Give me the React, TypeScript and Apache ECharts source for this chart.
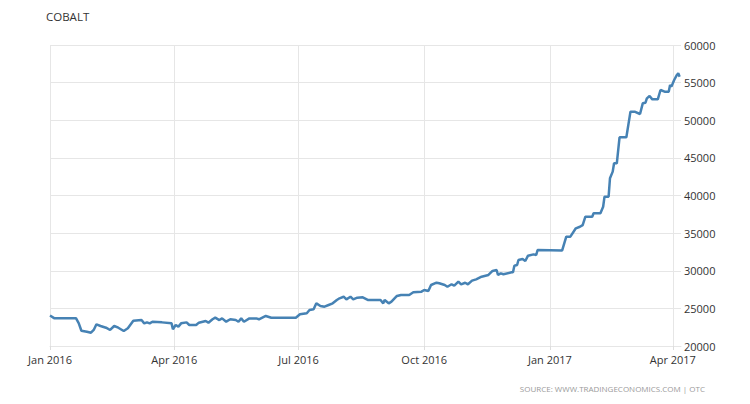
import React, { useEffect, useRef } from "react";
import * as echarts from "echarts";

const titleText = "COBALT";
const sourceText = "SOURCE: WWW.TRADINGECONOMICS.COM | OTC";

const dates: string[] = [
  "2016-01-01", "2016-01-04", "2016-01-20", "2016-01-22", "2016-01-24", "2016-01-28", "2016-01-31",
  "2016-02-02", "2016-02-04", "2016-02-07", "2016-02-11", "2016-02-14", "2016-02-17", "2016-02-20",
  "2016-02-24", "2016-02-27", "2016-03-02", "2016-03-08", "2016-03-10", "2016-03-12", "2016-03-14",
  "2016-03-16", "2016-03-23", "2016-03-30", "2016-03-31", "2016-04-02", "2016-04-04", "2016-04-06",
  "2016-04-10", "2016-04-12", "2016-04-17", "2016-04-19", "2016-04-24", "2016-04-26", "2016-04-29",
  "2016-05-01", "2016-05-04", "2016-05-06", "2016-05-09", "2016-05-12", "2016-05-16", "2016-05-18",
  "2016-05-20", "2016-05-22", "2016-05-26", "2016-05-31", "2016-06-02", "2016-06-07", "2016-06-11",
  "2016-06-29", "2016-07-02", "2016-07-07", "2016-07-09", "2016-07-12", "2016-07-14", "2016-07-17",
  "2016-07-20", "2016-07-23", "2016-07-26", "2016-07-29", "2016-07-31", "2016-08-03", "2016-08-05",
  "2016-08-08", "2016-08-10", "2016-08-13", "2016-08-17", "2016-08-21", "2016-08-25", "2016-08-30",
  "2016-09-01", "2016-09-02", "2016-09-05", "2016-09-07", "2016-09-11", "2016-09-14", "2016-09-20",
  "2016-09-23", "2016-09-29", "2016-10-01", "2016-10-04", "2016-10-06", "2016-10-10", "2016-10-12",
  "2016-10-16", "2016-10-18", "2016-10-21", "2016-10-23", "2016-10-26", "2016-10-28", "2016-10-31",
  "2016-11-02", "2016-11-05", "2016-11-08", "2016-11-12", "2016-11-17", "2016-11-20", "2016-11-23",
  "2016-11-24", "2016-11-26", "2016-11-28", "2016-12-04", "2016-12-05", "2016-12-06", "2016-12-08",
  "2016-12-09", "2016-12-12", "2016-12-14", "2016-12-16", "2016-12-20", "2016-12-22", "2016-12-23",
  "2017-01-10", "2017-01-13", "2017-01-16", "2017-01-20", "2017-01-23", "2017-01-25", "2017-01-27",
  "2017-02-01", "2017-02-02", "2017-02-07", "2017-02-09", "2017-02-10", "2017-02-13", "2017-02-14",
  "2017-02-16", "2017-02-17", "2017-02-19", "2017-02-21", "2017-02-26", "2017-03-01", "2017-03-04",
  "2017-03-08", "2017-03-10", "2017-03-12", "2017-03-13", "2017-03-15", "2017-03-17", "2017-03-21",
  "2017-03-23", "2017-03-26", "2017-03-29", "2017-03-30", "2017-03-31", "2017-04-02", "2017-04-04",
  "2017-04-05", "2017-04-06",
];

const prices: number[] = [
  24050, 23700, 23700, 23050, 22030, 21900, 21770,
  22130, 22880, 22660, 22430, 22130, 22660, 22430,
  21990, 22350, 23360, 23450, 23010, 23140, 23010,
  23230, 23140, 23010, 22220, 22790, 22570, 23010,
  23140, 22790, 22790, 23100, 23320, 23100, 23550,
  23760, 23450, 23670, 23230, 23550, 23450, 23230,
  23670, 23230, 23670, 23670, 23550, 23990, 23760,
  23760, 24210, 24350, 24780, 24870, 25670, 25320,
  25230, 25450, 25670, 26110, 26340, 26550, 26200,
  26550, 26200, 26420, 26470, 26110, 26110, 26110,
  25670, 26110, 25670, 25890, 26650, 26780, 26780,
  27140, 27220, 27440, 27310, 28110, 28410, 28330,
  28110, 27880, 28200, 28020, 28550, 28200, 28410,
  28200, 28680, 28860, 29210, 29440, 29970, 30100,
  29440, 29660, 29530, 29790, 29790, 30670, 30760,
  31430, 31560, 31300, 32000, 32180, 32090, 32760,
  32700, 34530, 34530, 35640, 35850, 36070, 37180,
  37180, 37640, 37640, 38510, 39840, 39840, 42290,
  43170, 44280, 44280, 47740, 47740, 51140, 51140,
  50830, 52250, 52330, 52910, 53220, 52780, 52780,
  54020, 53800, 53800, 54690, 54470, 55350, 56020,
  56240, 55790,
];

const xTickDates: string[] = ["2016-01-01", "2016-04-01", "2016-07-01", "2016-10-01", "2017-01-01", "2017-04-01"];
const monthNames: string[] = ["Jan", "Feb", "Mar", "Apr", "May", "Jun", "Jul", "Aug", "Sep", "Oct", "Nov", "Dec"];
const xMin = "2016-01-01";
const xMax = "2017-04-07";
const yMin = 20000;
const yMax = 60000;
const yStep = 5000;

function toTs(s: string): number {
  const [y, m, d] = s.split("-").map(Number);
  return new Date(y, m - 1, d).getTime();
}

export default function App() {
  const ref = useRef<HTMLDivElement>(null);
  useEffect(() => {
    if (!ref.current) return;
    const chart = echarts.init(ref.current, null, { renderer: "svg" });
    const tickTs = xTickDates.map(toTs);
    const font = "'Open Sans', sans-serif";
    chart.setOption({
      animation: false,
      backgroundColor: "#ffffff",
      grid: { left: 50, right: 69, top: 45, bottom: 58, containLabel: false },
      graphic: [
        {
          type: "text",
          left: 46,
          top: 10,
          style: { text: titleText, fill: "#333333", font: `11.5px ${font}` },
        },
        {
          type: "text",
          right: 45,
          top: 384,
          style: { text: sourceText, fill: "#9a9a9a", font: `8px ${font}` },
        },
      ],
      xAxis: {
        type: "value",
        min: toTs(xMin),
        max: toTs(xMax),
        axisLine: { show: true, lineStyle: { color: "#e6e6e6" } },
        axisTick: { show: true, length: 4, lineStyle: { color: "#dddddd" }, customValues: tickTs },
        axisLabel: {
          customValues: tickTs,
          color: "#333333",
          fontFamily: font,
          fontSize: 11,
          margin: 8,
          formatter: (v: number) => {
            const d = new Date(v);
            return monthNames[d.getMonth()] + " " + d.getFullYear();
          },
        },
        splitLine: { show: true, lineStyle: { color: "#e6e6e6", width: 1 } },
      },
      yAxis: {
        type: "value",
        position: "right",
        min: yMin,
        max: yMax,
        interval: yStep,
        axisLine: { show: false },
        axisTick: { show: false },
        axisLabel: {
          color: "#333333",
          fontFamily: font,
          fontSize: 11,
          margin: 3,
          formatter: (v: number) => String(v),
        },
        splitLine: { show: true, lineStyle: { color: "#e6e6e6", width: 1 } },
      },
      series: [
        {
          type: "line",
          data: dates.map((d, i) => [toTs(d), prices[i]]),
          showSymbol: false,
          lineStyle: { color: "#4682b4", width: 2.5 },
          itemStyle: { color: "#4682b4" },
        },
      ],
    });
    return () => chart.dispose();
  }, []);
  return (
    <div
      ref={ref}
      style={{ position: "fixed", left: 0, top: 0, width: 750, height: 404, background: "#fff" }}
    />
  );
}
